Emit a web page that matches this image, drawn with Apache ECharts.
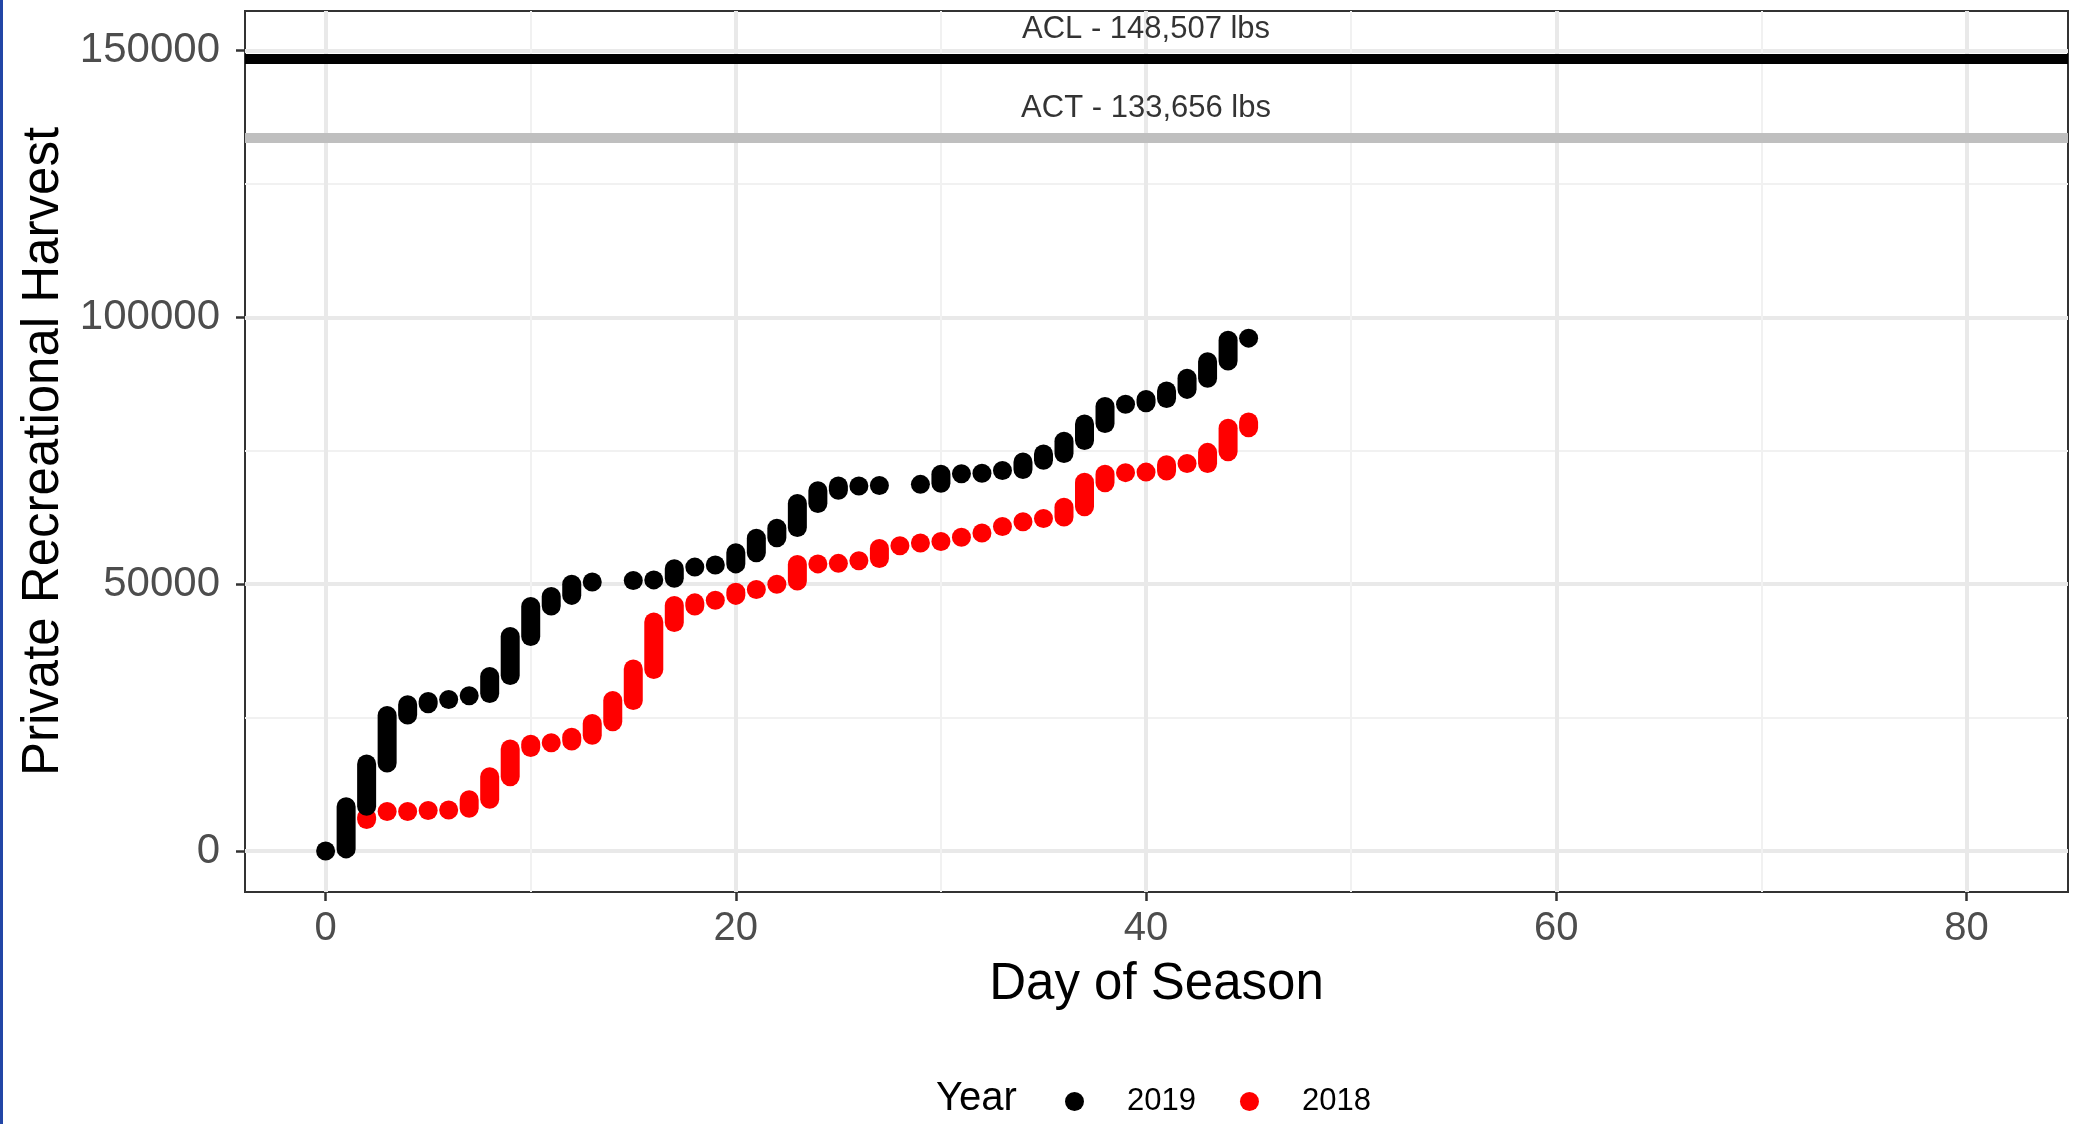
<!DOCTYPE html>
<html>
<head>
<meta charset="utf-8">
<script src="https://cdn.jsdelivr.net/npm/echarts@6/dist/echarts.min.js"></script>
<style>
  html, body { margin: 0; padding: 0; background: #fff; }
  #chart { width: 2074px; height: 1124px; }
  .edge { position: absolute; left: 0; top: 0; width: 3px; height: 1124px; background: #2246a6; }
</style>
</head>
<body>
<div id="chart"></div>
<div class="edge"></div>
<script>
// day of season, and the low / high cumulative harvest reached on that day
const days2019 = [0, 1, 2, 3, 4, 5, 6, 7, 8, 9, 10, 11, 12, 13, 15, 16, 17, 18, 19, 20, 21, 22, 23, 24, 25, 26, 27, 29, 30, 31, 32, 33, 34, 35, 36, 37, 38, 39, 40, 41, 42, 43, 44, 45]
const lo2019 = [0, 400, 8400, 16500, 25500, 27600, 28400, 29100, 29500, 32900, 40200, 45900, 47900, 50400, 50700, 50800, 51100, 53200, 53600, 53800, 55900, 58700, 60600, 65100, 67600, 68400, 68500, 68700, 68900, 70700, 70800, 71300, 71500, 73200, 74500, 76900, 80100, 83700, 84000, 84800, 86500, 88600, 91800, 96100]
const hi2019 = [0, 8300, 16300, 25400, 27400, 28000, 28400, 29100, 32700, 40200, 45800, 47700, 50000, 50400, 50700, 50800, 52900, 53200, 53600, 55900, 58600, 60500, 65100, 67500, 68400, 68400, 68500, 68700, 70600, 70700, 70800, 71300, 72900, 74400, 76800, 80000, 83300, 83700, 84600, 86200, 88600, 91700, 95700, 96100]

const days2018 = [2, 3, 4, 5, 6, 7, 8, 9, 10, 11, 12, 13, 14, 15, 16, 17, 18, 19, 20, 21, 22, 23, 24, 25, 26, 27, 28, 29, 30, 31, 32, 33, 34, 35, 36, 37, 38, 39, 40, 41, 42, 43, 44, 45]
const lo2018 = [5900, 7400, 7400, 7600, 7700, 8000, 9700, 13900, 19400, 20300, 20600, 21700, 24200, 28200, 34000, 42800, 45900, 47000, 47900, 49000, 50000, 50600, 53800, 53900, 54400, 54800, 57200, 57700, 58000, 58800, 59600, 60800, 61700, 62300, 62600, 64500, 69000, 70900, 71000, 71200, 72600, 72600, 74800, 79300]
const hi2018 = [6300, 7400, 7400, 7600, 7700, 9600, 13900, 19100, 20000, 20300, 21300, 23900, 28200, 34100, 42900, 46000, 46500, 47000, 48500, 49000, 50000, 53700, 53800, 53900, 54400, 56700, 57200, 57700, 58000, 58800, 59600, 60800, 61700, 62300, 64400, 69100, 70600, 70900, 71000, 72400, 72600, 74700, 79200, 80400]

// reference lines
const refNames = ['ACL', 'ACT']
const refValues = [148507, 133656]
const refLabelDay = 40
const refLabelY = [154000, 139100]

const xTicks = [0, 20, 40, 60, 80]
const xMinor = [10, 30, 50, 70]
const yTicks = [0, 50000, 100000, 150000]
const yMinor = [25000, 75000, 125000]

const FONT = '"Liberation Sans", Arial, sans-serif'
const DOT = 19

const chart = echarts.init(document.getElementById('chart'))

const toRows = (days, lo, hi) => days.map((d, i) => [d, lo[i], hi[i]])

// each day is drawn as a run of points: a capsule from the low to the high value
const capsule = (color) => (params, api) => {
  const pLo = api.coord([api.value(0), api.value(1)])
  const pHi = api.coord([api.value(0), api.value(2)])
  const r = DOT / 2
  return {
    type: 'rect',
    shape: { x: pLo[0] - r, y: pHi[1] - r, width: DOT, height: pLo[1] - pHi[1] + DOT, r: r },
    style: { fill: color }
  }
}

const fmt = (v) => v.toLocaleString('en-US')

const X_MIN = -3.93, X_MAX = 84.95
const Y_MIN = -7680, Y_MAX = 157400

const option = {
  animation: false,
  textStyle: { fontFamily: FONT },
  grid: {
    left: 245, right: 6, top: 11, bottom: 232,
    show: true, borderColor: '#333', borderWidth: 2, backgroundColor: '#fff'
  },
  legend: {
    left: 1060, top: 1081,
    itemWidth: DOT, itemHeight: DOT, itemGap: 44,
    data: [{ name: '2019', icon: 'circle' }, { name: '2018', icon: 'circle' }],
    textStyle: { fontFamily: FONT, fontSize: 31, color: '#000', padding: [0, 0, 0, 38] }
  },
  graphic: [{
    type: 'text', left: 936, top: 1079,
    style: { text: 'Year', font: '40px ' + FONT, fill: '#000' }
  }],
  xAxis: [{
    type: 'value', min: X_MIN, max: X_MAX,
    name: 'Day of Season', nameLocation: 'middle', nameGap: 67,
    nameTextStyle: { fontSize: 51, color: '#000', fontFamily: FONT },
    axisLine: { show: false, onZero: false },
    axisTick: { show: true, length: 9, customValues: xTicks, lineStyle: { color: '#333', width: 2.5 } },
    axisLabel: { customValues: xTicks, fontSize: 40, color: '#4d4d4d', margin: 17, fontFamily: FONT },
    splitLine: { show: true, lineStyle: { color: '#e9e9e9', width: 4 } }
  }, {
    type: 'value', min: X_MIN, max: X_MAX, gridIndex: 0,
    axisLine: { show: false, onZero: false },
    axisTick: { show: false, customValues: xMinor },
    axisLabel: { show: false },
    splitLine: { show: true, lineStyle: { color: '#f1f1f1', width: 2 } }
  }],
  yAxis: [{
    type: 'value', min: Y_MIN, max: Y_MAX,
    name: 'Private Recreational Harvest', nameLocation: 'middle', nameGap: 174,
    nameTextStyle: { fontSize: 51, color: '#000', fontFamily: FONT },
    axisLine: { show: false, onZero: false },
    axisTick: { show: true, length: 9, customValues: yTicks, lineStyle: { color: '#333', width: 2.5 } },
    axisLabel: {
      customValues: yTicks, fontSize: 42, color: '#4d4d4d', margin: 25, fontFamily: FONT,
      formatter: (v) => String(v)
    },
    splitLine: { show: true, lineStyle: { color: '#e9e9e9', width: 4 } }
  }, {
    type: 'value', min: Y_MIN, max: Y_MAX, gridIndex: 0,
    axisLine: { show: false, onZero: false },
    axisTick: { show: false, customValues: yMinor },
    axisLabel: { show: false },
    splitLine: { show: true, lineStyle: { color: '#f1f1f1', width: 2 } }
  }],
  series: [{
    name: 'ref',
    type: 'scatter',
    symbolSize: 0,
    silent: true,
    data: refNames.map((n, i) => ({
      value: [refLabelDay, refLabelY[i]],
      label: {
        show: true, position: 'inside',
        formatter: n + ' - ' + fmt(refValues[i]) + ' lbs',
        fontSize: 31, color: '#000', fontFamily: FONT
      }
    })),
    markLine: {
      silent: true, symbol: 'none', animation: false,
      label: { show: false },
      data: refValues.map((v, i) => ({
        yAxis: v,
        lineStyle: { type: 'solid', width: 10, color: i === 0 ? '#000' : '#bfbfbf' }
      }))
    },
    z: 1
  }, {
    name: '2018',
    type: 'custom',
    color: '#ff0000',
    itemStyle: { color: '#ff0000' },
    renderItem: capsule('#ff0000'),
    encode: { x: 0, y: [1, 2] },
    data: toRows(days2018, lo2018, hi2018),
    z: 3
  }, {
    name: '2019',
    type: 'custom',
    color: '#000000',
    itemStyle: { color: '#000000' },
    renderItem: capsule('#000000'),
    encode: { x: 0, y: [1, 2] },
    data: toRows(days2019, lo2019, hi2019),
    z: 4
  }]
}

chart.setOption(option)
</script>
</body>
</html>
